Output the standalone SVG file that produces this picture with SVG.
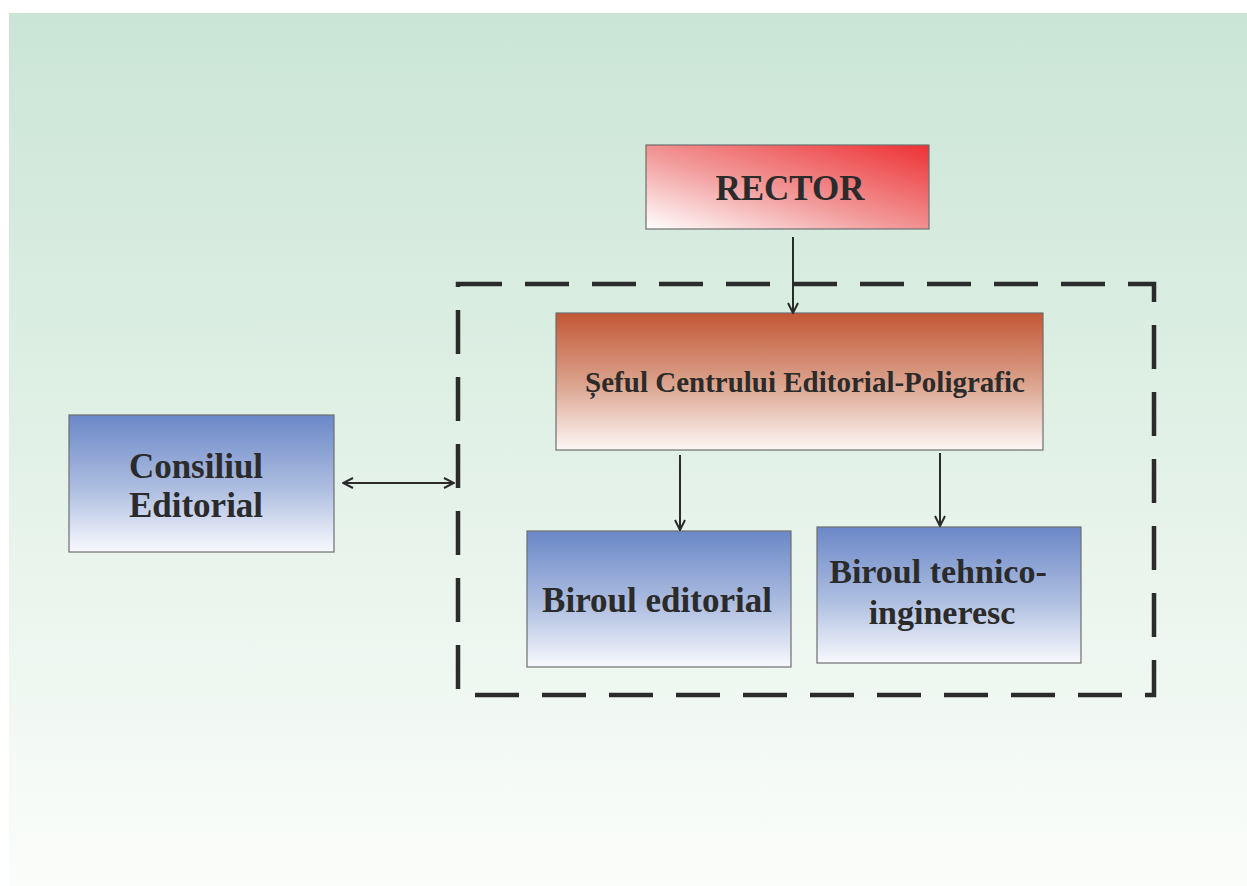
<svg xmlns="http://www.w3.org/2000/svg" width="1247" height="886" viewBox="0 0 1247 886">
<defs>
<linearGradient id="bg" x1="0" y1="0" x2="0" y2="1">
<stop offset="0" stop-color="#cae5d5"/>
<stop offset="0.5" stop-color="#e2f1e7"/>
<stop offset="1" stop-color="#fbfdfb"/>
</linearGradient>
<linearGradient id="red" x1="0" y1="1" x2="1" y2="0">
<stop offset="0" stop-color="#ffffff"/>
<stop offset="0.45" stop-color="#f29a9a"/>
<stop offset="1" stop-color="#ee3134"/>
</linearGradient>
<linearGradient id="brown" x1="0" y1="0" x2="0" y2="1">
<stop offset="0" stop-color="#c35735"/>
<stop offset="0.5" stop-color="#daa08a"/>
<stop offset="1" stop-color="#fdf7f5"/>
</linearGradient>
<linearGradient id="blue" x1="0" y1="0" x2="0" y2="1">
<stop offset="0" stop-color="#6a87c7"/>
<stop offset="0.55" stop-color="#afbfe1"/>
<stop offset="1" stop-color="#f8f9fd"/>
</linearGradient>
<marker id="ah" viewBox="0 0 12 12" refX="11" refY="6" markerWidth="12" markerHeight="12" markerUnits="userSpaceOnUse" orient="auto-start-reverse">
<path d="M1,1 L11,6 L1,11" fill="none" stroke="#2b2b2b" stroke-width="2"/>
</marker>
<style>
.box{stroke:#6e6e6e;stroke-width:1.2}
.t{font-family:"Liberation Serif","Times New Roman",serif;font-weight:bold;fill:#2b2b2b;text-anchor:middle}
.c{stroke:#2b2b2b;stroke-width:2;fill:none}
</style>
</defs>
<rect x="0" y="0" width="1247" height="886" fill="#ffffff"/>
<rect x="9" y="13" width="1238" height="873" fill="url(#bg)"/>
<g id="boundary">
<rect x="458" y="284" width="696" height="411" fill="none" stroke="#2b2b2b" stroke-width="4.5" stroke-dasharray="44 23"/>
</g>
<g id="rector">
<rect class="box" x="646" y="145" width="283" height="84" fill="url(#red)"/>
<text class="t" x="790" y="200" font-size="35">RECTOR</text>
</g>
<g id="sef">
<rect class="box" x="556" y="313" width="487" height="137" fill="url(#brown)"/>
<text class="t" x="805" y="392" font-size="29">Șeful Centrului Editorial-Poligrafic</text>
</g>
<g id="consiliul">
<rect class="box" x="69" y="415" width="265" height="137" fill="url(#blue)"/>
<text class="t" x="196" y="478" font-size="35">Consiliul</text>
<text class="t" x="196" y="517" font-size="35">Editorial</text>
</g>
<g id="birou-editorial">
<rect class="box" x="527" y="531" width="264" height="136" fill="url(#blue)"/>
<text class="t" x="657" y="612" font-size="35">Biroul editorial</text>
</g>
<g id="birou-tehnic">
<rect class="box" x="817" y="527" width="264" height="136" fill="url(#blue)"/>
<text class="t" x="938" y="583" font-size="34">Biroul tehnico-</text>
<text class="t" x="942" y="624" font-size="34">ingineresc</text>
</g>
<g id="connectors">
<line class="c" x1="793" y1="237" x2="793" y2="313" marker-end="url(#ah)"/>
<line class="c" x1="680" y1="455" x2="680" y2="530" marker-end="url(#ah)"/>
<line class="c" x1="940" y1="453" x2="940" y2="526" marker-end="url(#ah)"/>
<line class="c" x1="343" y1="483" x2="454" y2="483" marker-start="url(#ah)" marker-end="url(#ah)"/>
</g>
</svg>
